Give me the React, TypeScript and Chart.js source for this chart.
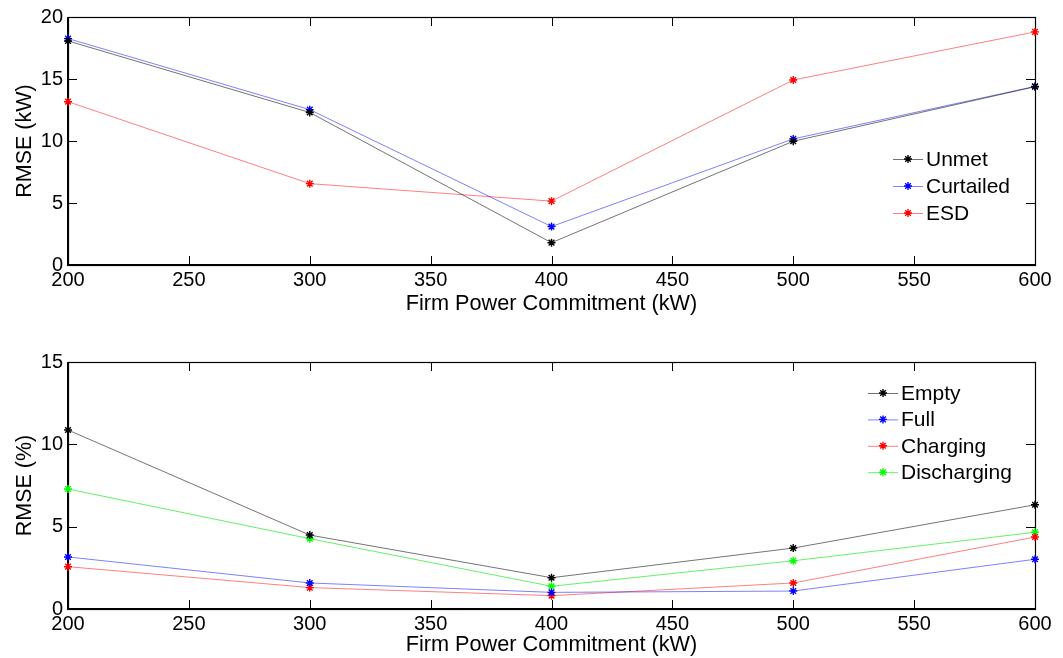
import React, { useEffect, useRef } from "react";
import { Chart, registerables } from "chart.js";
Chart.register(...registerables);

const xValues = [200, 300, 400, 500, 600];
const xTitle = "Firm Power Commitment (kW)";

// Top chart
const topYTitle = "RMSE (kW)";
const topLabels = ["Unmet", "Curtailed", "ESD"];
const unmet = [18.07, 12.3, 1.8, 9.98, 14.38];
const curtailed = [18.26, 12.53, 3.1, 10.17, 14.4];
const esd = [13.17, 6.56, 5.15, 14.92, 18.8];

// Bottom chart
const bottomYTitle = "RMSE (%)";
const bottomLabels = ["Empty", "Full", "Charging", "Discharging"];
const empty = [10.87, 4.49, 1.9, 3.7, 6.33];
const full = [3.16, 1.58, 1.01, 1.09, 3.02];
const charging = [2.57, 1.3, 0.81, 1.58, 4.37];
const discharging = [7.29, 4.27, 1.38, 2.93, 4.66];

const FONT = "'Liberation Sans', Arial, Helvetica, sans-serif";

const COLORS = {
  black: { line: "rgba(0,0,0,0.55)", mark: "#000000" },
  blue: { line: "rgba(0,0,255,0.5)", mark: "#0000ff" },
  red: { line: "rgba(255,0,0,0.5)", mark: "#ff0000" },
  green: { line: "rgba(0,230,0,0.6)", mark: "#00ff00" },
};

function drawStar(ctx: CanvasRenderingContext2D, x: number, y: number, r: number, color: string) {
  ctx.save();
  ctx.strokeStyle = color;
  ctx.lineWidth = 1.4;
  ctx.beginPath();
  ctx.moveTo(x - r, y);
  ctx.lineTo(x + r, y);
  ctx.moveTo(x, y - r);
  ctx.lineTo(x, y + r);
  const d = r * 0.7;
  ctx.moveTo(x - d, y - d);
  ctx.lineTo(x + d, y + d);
  ctx.moveTo(x - d, y + d);
  ctx.lineTo(x + d, y - d);
  ctx.stroke();
  ctx.restore();
}

const framePlugin = {
  id: "frame",
  beforeDatasetsDraw(chart: any) {
    const { ctx, chartArea: a, scales } = chart;
    const L = 9;
    ctx.save();
    ctx.strokeStyle = "#000";
    ctx.lineWidth = 1;
    ctx.beginPath();
    scales.x.ticks.forEach((t: any) => {
      const px = Math.round(scales.x.getPixelForValue(t.value)) + 0.5;
      ctx.moveTo(px, a.top);
      ctx.lineTo(px, a.top + L);
      ctx.moveTo(px, a.bottom);
      ctx.lineTo(px, a.bottom - L);
    });
    scales.y.ticks.forEach((t: any) => {
      const py = Math.round(scales.y.getPixelForValue(t.value)) + 0.5;
      ctx.moveTo(a.left, py);
      ctx.lineTo(a.left + L, py);
      ctx.moveTo(a.right, py);
      ctx.lineTo(a.right - L, py);
    });
    ctx.stroke();
    ctx.lineWidth = 1.2;
    ctx.strokeRect(a.left + 0.5, a.top + 0.5, a.right - a.left, a.bottom - a.top);
    ctx.lineWidth = 2;
    ctx.beginPath();
    ctx.moveTo(a.left, a.top);
    ctx.lineTo(a.left, a.bottom);
    ctx.lineTo(a.right + 1, a.bottom);
    ctx.stroke();
    ctx.restore();
  },
};

const legendPlugin = {
  id: "mlegend",
  afterDatasetsDraw(chart: any, _args: any, opts: any) {
    const { ctx } = chart;
    ctx.save();
    ctx.font = `21px ${FONT}`;
    ctx.textBaseline = "middle";
    ctx.textAlign = "left";
    chart.data.datasets.forEach((ds: any, i: number) => {
      const y = opts.y + i * opts.spacing;
      ctx.strokeStyle = ds.borderColor;
      ctx.lineWidth = 1;
      ctx.beginPath();
      ctx.moveTo(opts.x, y + 0.5);
      ctx.lineTo(opts.x + 30, y + 0.5);
      ctx.stroke();
      drawStar(ctx, opts.x + 15, y, 4, ds.pointBorderColor);
      ctx.fillStyle = "#000";
      ctx.fillText(ds.label, opts.x + 33, y + 1);
    });
    ctx.restore();
  },
};

function makeDataset(label: string, values: number[], c: { line: string; mark: string }) {
  return {
    label,
    data: xValues.map((x, i) => ({ x, y: values[i] })),
    borderColor: c.line,
    borderWidth: 1,
    pointStyle: "star",
    pointRadius: 4,
    pointBorderColor: c.mark,
    pointBackgroundColor: c.mark,
    pointBorderWidth: 1.4,
    tension: 0,
    clip: false,
  };
}

function makeConfig(
  datasets: any[],
  yTitle: string,
  yMax: number,
  pad: { top: number; bottom: number },
  xAxisHeight: number,
  legend: { x: number; y: number; spacing: number }
): any {
  return {
    type: "line",
    data: { datasets },
    plugins: [framePlugin, legendPlugin],
    options: {
      animation: false,
      responsive: false,
      devicePixelRatio: 1,
      layout: { padding: { left: 12, right: 28, top: pad.top, bottom: pad.bottom } },
      plugins: {
        legend: { display: false },
        tooltip: { enabled: false },
        mlegend: legend,
      },
      scales: {
        x: {
          type: "linear",
          min: 200,
          max: 600,
          ticks: { stepSize: 50, color: "#000", font: { family: FONT, size: 20 }, padding: 3, maxRotation: 0 },
          grid: { display: false, drawTicks: false },
          border: { display: false },
          title: { display: true, text: xTitle, color: "#000", font: { family: FONT, size: 21.7 }, padding: 0 },
          afterFit: (s: any) => {
            s.height = xAxisHeight;
          },
        },
        y: {
          type: "linear",
          min: 0,
          max: yMax,
          ticks: { stepSize: 5, color: "#000", font: { family: FONT, size: 20 }, padding: 5 },
          grid: { display: false, drawTicks: false },
          border: { display: false },
          title: { display: true, text: yTitle, color: "#000", font: { family: FONT, size: 21.5 }, padding: 0 },
          afterFit: (s: any) => {
            s.width = 56;
          },
        },
      },
    },
  };
}

function ChartCanvas({ config, top }: { config: () => any; top: number }) {
  const ref = useRef<HTMLCanvasElement>(null);
  useEffect(() => {
    if (!ref.current) return;
    const chart = new Chart(ref.current, config());
    return () => chart.destroy();
  }, []);
  return (
    <canvas
      ref={ref}
      width={1063}
      height={329}
      style={{ position: "absolute", left: 0, top, width: 1063, height: 329 }}
    />
  );
}

export default function App() {
  const topConfig = () =>
    makeConfig(
      [
        makeDataset(topLabels[0], unmet, COLORS.black),
        makeDataset(topLabels[1], curtailed, COLORS.blue),
        makeDataset(topLabels[2], esd, COLORS.red),
      ],
      topYTitle,
      20,
      { top: 16, bottom: 12 },
      52,
      { x: 893, y: 159, spacing: 27 }
    );
  const bottomConfig = () =>
    makeConfig(
      [
        makeDataset(bottomLabels[0], empty, COLORS.black),
        makeDataset(bottomLabels[1], full, COLORS.blue),
        makeDataset(bottomLabels[2], charging, COLORS.red),
        makeDataset(bottomLabels[3], discharging, COLORS.green),
      ],
      bottomYTitle,
      15,
      { top: 33, bottom: 0 },
      49,
      { x: 868, y: 64, spacing: 26.4 }
    );
  return (
    <div style={{ position: "absolute", left: 0, top: 0, width: 1063, height: 658, background: "#fff" }}>
      <ChartCanvas config={topConfig} top={0} />
      <ChartCanvas config={bottomConfig} top={329} />
    </div>
  );
}
